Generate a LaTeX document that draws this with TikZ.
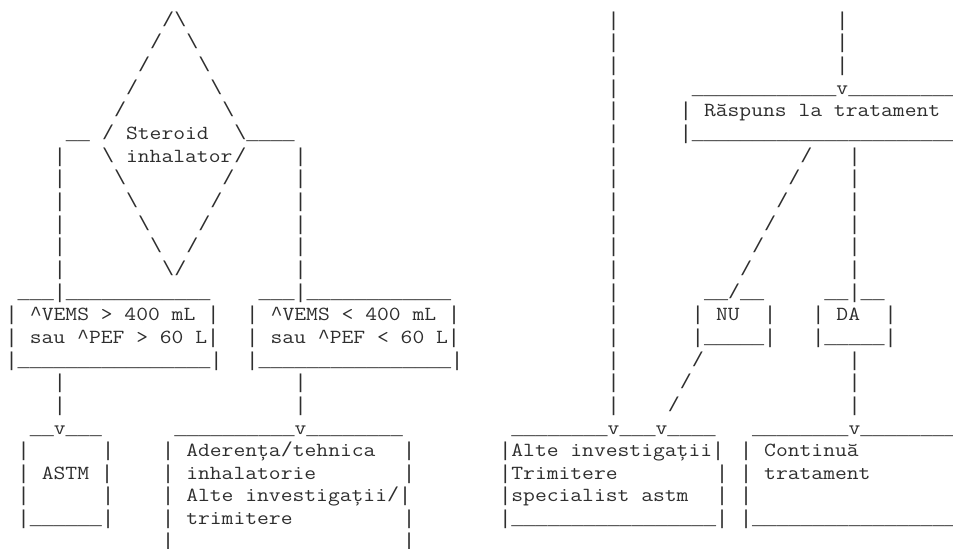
\documentclass[tikz,border=0pt]{standalone}
\usepackage{fontspec}
\newfontfamily\asciifont{Liberation Mono}
\newfontfamily\wordfont[FakeStretch=1.1467]{Latin Modern Mono}
\definecolor{ink}{HTML}{2E2E2E}
\tikzstyle{glyph}=[anchor=base west, inner sep=0pt, outer sep=0pt, text=ink,
    font={\asciifont\fontsize{15.05}{17}\selectfont}]
\newcommand{\wrd}[1]{{\wordfont\fontsize{15}{17}\selectfont #1}}
\newcommand{\unds}[1]{\foreach\k in {1,...,#1}{\_}}
\newcommand{\bsl}{\textbackslash}
\newcommand{\crt}{\textasciicircum}

\begin{document}
\begin{tikzpicture}[x=9.03pt,y=-16.99pt]
	\useasboundingbox (0,0) rectangle (79.153,24.191);
	\begin{scope}[shift={(0.473,0.159)}]
	% Diamond of the steroid question
	\foreach \r in {1,...,6} {
		\node (dia_ul\r)[glyph] at (14-\r,\r) {/};
		\node (dia_ur\r)[glyph] at (13+\r,\r) {\bsl};
	}
	\foreach \r in {7,...,12} {
		\node (dia_ll\r)[glyph] at (\r+1,\r) {\bsl};
		\node (dia_lr\r)[glyph] at (26-\r,\r) {/};
	}
	\node (dia_wl)[glyph] at (5,6) {\unds{2}};
	\node (dia_wr)[glyph] at (20,6) {\unds{4}};
	\node (dia_t1)[glyph] at (10,6) {\wrd{Steroid}};
	\node (dia_t2)[glyph] at (10,7) {\wrd{inhalator}};
	% Bars down to the two FEV boxes
	\foreach \r in {7,...,12,17,18} {
		\node (bar_a\r)[glyph] at (4,\r) {|};
		\node (bar_b\r)[glyph] at (24,\r) {|};
	}
	% Box VEMS >
	\node (up_top)[glyph] at (1,13) {\unds{3}|\unds{12}};
	\node (up_t1)[glyph] at (0,14) {| \crt\wrd{VEMS > 400 mL} |};
	\node (up_t2)[glyph] at (0,15) {| \wrd{sau }\crt\wrd{PEF > 60 L}|};
	\node (up_bot)[glyph] at (0,16) {|\unds{16}|};
	% Box VEMS <
	\node (low_top)[glyph] at (21,13) {\unds{3}|\unds{12}};
	\node (low_t1)[glyph] at (20,14) {| \crt\wrd{VEMS < 400 mL} |};
	\node (low_t2)[glyph] at (20,15) {| \wrd{sau }\crt\wrd{PEF < 60 L}|};
	\node (low_bot)[glyph] at (20,16) {|\unds{16}|};
	% Box ASTM
	\node (astm_top)[glyph] at (2,19) {\unds{2}\wrd{v}\unds{3}};
	\node (astm_l1)[glyph] at (1,20) {|};
	\node (astm_r1)[glyph] at (8,20) {|};
	\node (astm_txt)[glyph] at (1,21) {| \wrd{ASTM} |};
	\node (astm_l2)[glyph] at (1,22) {|};
	\node (astm_r2)[glyph] at (8,22) {|};
	\node (astm_bot)[glyph] at (1,23) {|\unds{6}|};
	% Box aderenta
	\node (adh_top)[glyph] at (14,19) {\unds{10}\wrd{v}\unds{8}};
	\node (adh_t1)[glyph] at (13,20) {| \wrd{Aderența}/\wrd{tehnica}};
	\node (adh_t2)[glyph] at (13,21) {| \wrd{inhalatorie}};
	\node (adh_t3)[glyph] at (13,22) {| \wrd{Alte investigații}/|};
	\node (adh_t4)[glyph] at (13,23) {| \wrd{trimitere}};
	\foreach \r in {20,21,23} \node (adh_r\r)[glyph] at (33,\r) {|};
	\node (adh_l24)[glyph] at (13,24) {|};
	\node (adh_r24)[glyph] at (33,24) {|};

	% Right side: long lines
	\foreach \r in {1,...,18} \node (bar_c\r)[glyph] at (50,\r) {|};
	\foreach \r in {1,2,3} \node (bar_d\r)[glyph] at (69,\r) {|};
	\foreach \r in {7,...,12,16,17,18} \node (bar_e\r)[glyph] at (70,\r) {|};
	\foreach \r in {7,...,12,16,17,18} \node (nu_ln\r)[glyph] at (73-\r,\r) {/};
	% Box raspuns
	\node (resp_top)[glyph] at (57,4) {\unds{12}\wrd{v}\unds{10}};
	\node (resp_l)[glyph] at (56,5) {|};
	\node (resp_txt)[glyph] at (58,5) {\wrd{Răspuns la tratament}};
	\node (resp_bot)[glyph] at (56,6) {|\unds{23}};
	% Boxes NU and DA
	\node (nu_top)[glyph] at (58,13) {\unds{2}/\unds{2}};
	\node (nu_txt)[glyph] at (57,14) {| \wrd{NU}};
	\node (nu_r)[glyph] at (63,14) {|};
	\node (nu_bot)[glyph] at (57,15) {|\unds{5}|};
	\node (da_top)[glyph] at (68,13) {\unds{2}|\unds{2}};
	\node (da_txt)[glyph] at (67,14) {| \wrd{DA}};
	\node (da_r)[glyph] at (73,14) {|};
	\node (da_bot)[glyph] at (67,15) {|\unds{5}|};
	% Box investigatii
	\node (inv_top)[glyph] at (42,19) {\unds{8}\wrd{v}\unds{3}\wrd{v}\unds{4}};
	\node (inv_t1)[glyph] at (41,20) {|\wrd{Alte investigații}|};
	\node (inv_t2)[glyph] at (41,21) {|\wrd{Trimitere}};
	\node (inv_t3)[glyph] at (41,22) {|\wrd{specialist astm}};
	\node (inv_r21)[glyph] at (59,21) {|};
	\node (inv_r22)[glyph] at (59,22) {|};
	\node (inv_bot)[glyph] at (41,23) {|\unds{17}|};
	% Box continua
	\node (cont_top)[glyph] at (62,19) {\unds{8}\wrd{v}\unds{10}};
	\node (cont_t1)[glyph] at (61,20) {| \wrd{Continuă}};
	\node (cont_t2)[glyph] at (61,21) {| \wrd{tratament}};
	\node (cont_l)[glyph] at (61,22) {|};
	\node (cont_bot)[glyph] at (61,23) {|\unds{18}};
	\end{scope}
\end{tikzpicture}
\end{document}
